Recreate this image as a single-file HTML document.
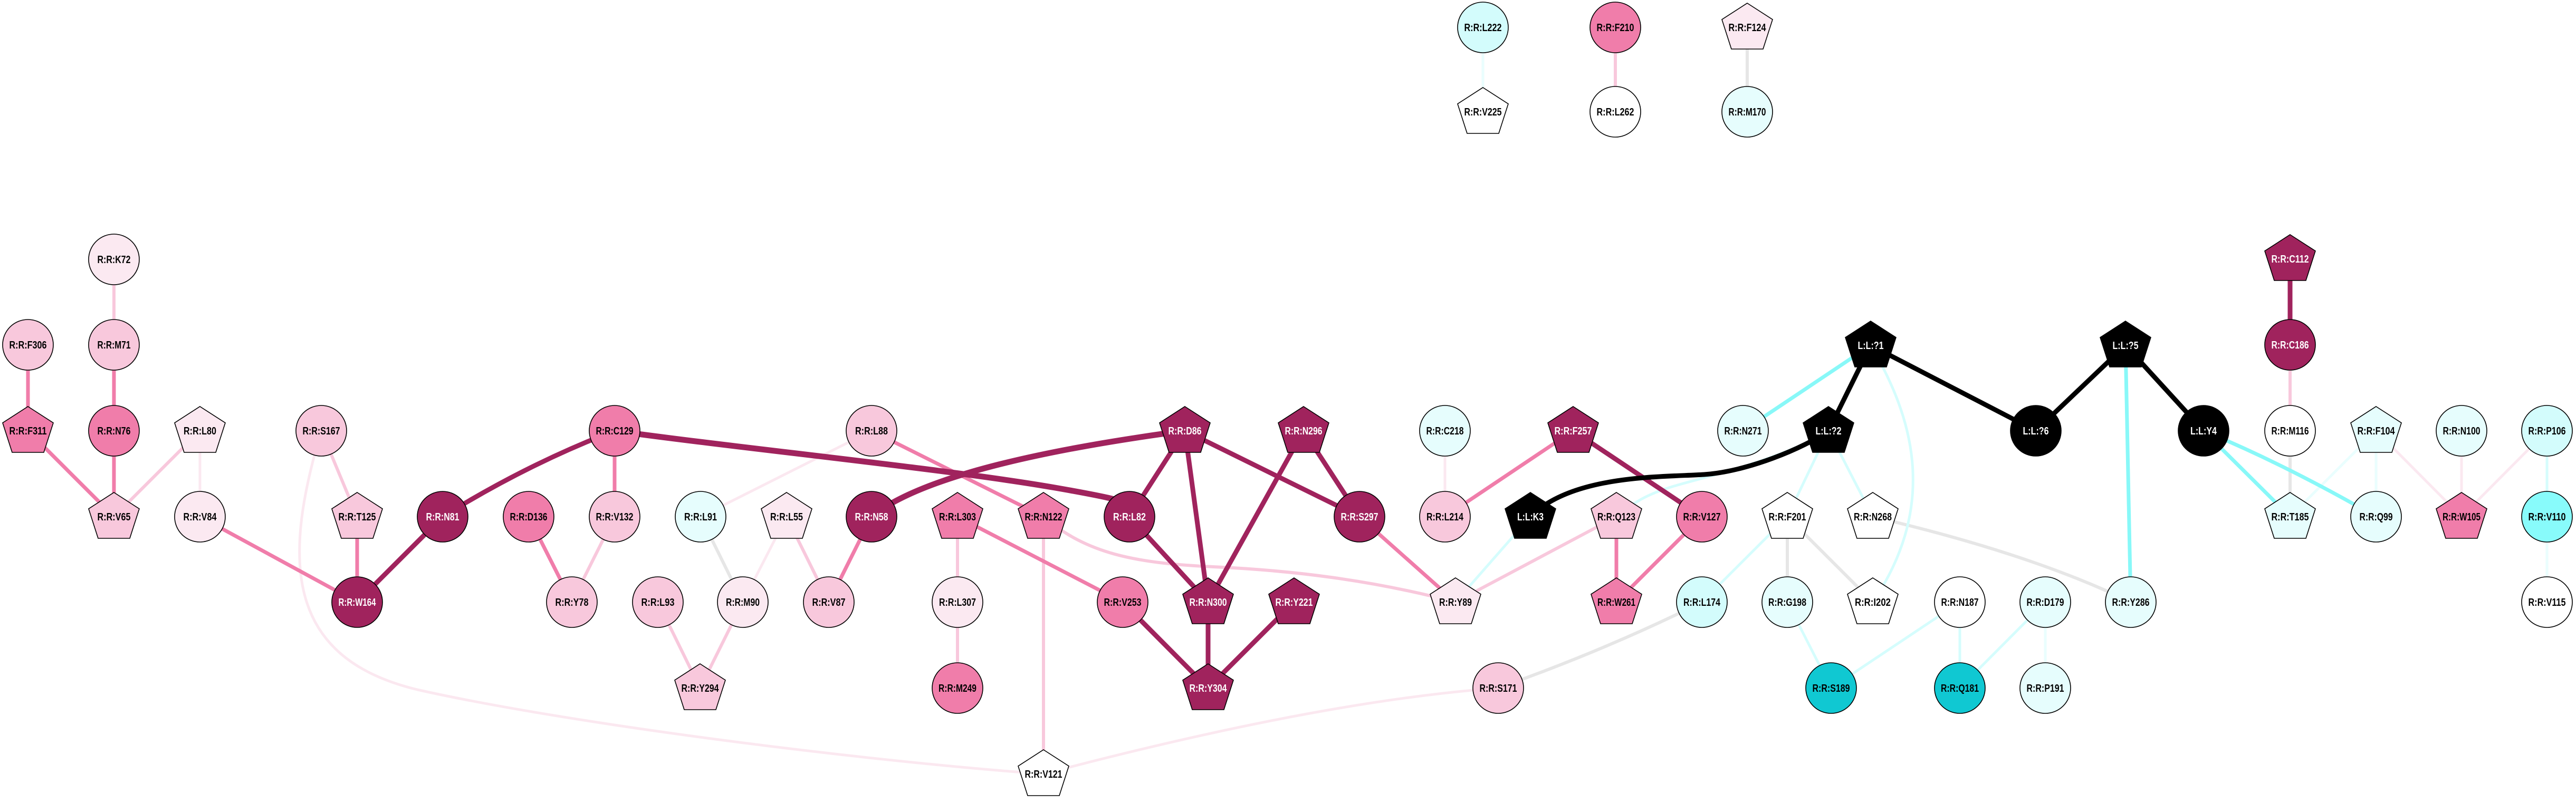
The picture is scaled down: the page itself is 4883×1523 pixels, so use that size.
<!DOCTYPE html>
<html><head><meta charset="utf-8"><style>
html,body{margin:0;padding:0;background:#fff;width:4883px;height:1523px;overflow:hidden}
svg{display:block}
.n polygon,.n circle{stroke:#000;stroke-width:1.6}
text{font-family:"Liberation Sans",sans-serif;font-weight:bold;font-size:20px;text-anchor:middle;fill:#000}
.w text{fill:#fff}
.D{fill:#A0235D}.M{fill:#F07DAA}.P{fill:#F8C8DC}.V{fill:#FBE9F1}.C{fill:#E6FDFD}.C2{fill:#D3FCFC}.C3{fill:#88FBFB}.T{fill:#10C8D2}.K{fill:#000}.W{fill:#fff}
path,line{fill:none;stroke-linecap:butt}
.ed{stroke:#A0235D;stroke-width:9}.em{stroke:#F07DAA;stroke-width:7}.ep{stroke:#F8C8DC;stroke-width:6}.ev{stroke:#FBE8F0;stroke-width:5}.eg{stroke:#E6E6E6;stroke-width:6}.ek{stroke:#000;stroke-width:9}.ec{stroke:#88F8F8;stroke-width:7}.el{stroke:#D5FDFD;stroke-width:5}.ex{stroke:#EAFEFE;stroke-width:5}
</style></head><body>
<svg width="4883" height="1523" viewBox="0 0 4883 1523" xmlns="http://www.w3.org/2000/svg">
<defs><polygon id="pg" points="0,-46 48,-15 30,41 -30,41 -48,-15"/></defs>
<g>
<!-- very light pink -->
<line class="ev" x1="379" y1="817" x2="379" y2="980"/>
<path class="ev" d="M609,817 C540,1050 530,1250 800,1310 S1600,1440 1978,1468"/>
<line class="ev" x1="1491" y1="980" x2="1408" y2="1142"/>
<line class="ev" x1="1652" y1="817" x2="1328" y2="980"/>
<line class="ev" x1="2739" y1="817" x2="2739" y2="980"/>
<path class="ev" d="M1978,1468 Q2500,1330 2840,1305"/>
<line class="ev" x1="4504" y1="817" x2="4666" y2="980"/>
<line class="ev" x1="4666" y1="817" x2="4666" y2="980"/>
<line class="ev" x1="4828" y1="817" x2="4666" y2="980"/>
<!-- grey -->
<line class="eg" x1="1328" y1="980" x2="1408" y2="1142"/>
<path class="eg" d="M2840,1305 Q3050,1230 3226,1142"/>
<line class="eg" x1="3388" y1="980" x2="3388" y2="1142"/>
<line class="eg" x1="3388" y1="980" x2="3550" y2="1142"/>
<path class="eg" d="M3550,980 Q3850,1050 4039,1142"/>
<line class="eg" x1="4341" y1="817" x2="4341" y2="980"/>
<line class="eg" x1="3312" y1="52" x2="3312" y2="212"/>
<!-- very light cyan -->
<line class="ex" x1="3877" y1="1142" x2="3877" y2="1305"/>
<line class="ex" x1="4504" y1="817" x2="4341" y2="980"/>
<line class="ex" x1="4504" y1="817" x2="4504" y2="980"/>
<line class="ex" x1="4828" y1="980" x2="4828" y2="1142"/>
<line class="ex" x1="2811" y1="52" x2="2811" y2="212"/>
<!-- light cyan -->
<line class="el" x1="2901" y1="980" x2="2759" y2="1142"/>
<path class="el" d="M3466,817 C3380,870 3250,900 3180,920 S3090,960 3064,980"/>
<path class="el" d="M3546,655 C3620,780 3680,950 3550,1142"/>
<line class="el" x1="3466" y1="817" x2="3388" y2="980"/>
<line class="el" x1="3466" y1="817" x2="3550" y2="980"/>
<line class="el" x1="3388" y1="980" x2="3226" y2="1142"/>
<line class="el" x1="3388" y1="1142" x2="3471" y2="1305"/>
<line class="el" x1="3715" y1="1142" x2="3471" y2="1305"/>
<line class="el" x1="3715" y1="1142" x2="3715" y2="1305"/>
<line class="el" x1="3877" y1="1142" x2="3715" y2="1305"/>
<line class="el" x1="4828" y1="817" x2="4828" y2="980"/>
<!-- light pink -->
<line class="ep" x1="216" y1="492" x2="216" y2="654"/>
<line class="ep" x1="379" y1="817" x2="216" y2="980"/>
<line class="ep" x1="609" y1="817" x2="677" y2="980"/>
<line class="ep" x1="1165" y1="980" x2="1084" y2="1142"/>
<line class="ep" x1="1247" y1="1142" x2="1327" y2="1305"/>
<line class="ep" x1="1408" y1="1142" x2="1327" y2="1305"/>
<line class="ep" x1="1491" y1="980" x2="1571" y2="1142"/>
<line class="ep" x1="1815" y1="980" x2="1815" y2="1142"/>
<line class="ep" x1="1815" y1="1142" x2="1815" y2="1305"/>
<line class="ep" x1="1978" y1="980" x2="1978" y2="1468"/>
<path class="ep" d="M1978,980 C2060,1050 2150,1068 2300,1075 S2600,1100 2759,1142"/>
<line class="ep" x1="3064" y1="980" x2="2759" y2="1142"/>
<line class="ep" x1="4341" y1="654" x2="4341" y2="817"/>
<line class="ep" x1="3062" y1="52" x2="3062" y2="212"/>
<!-- medium -->
<line class="em" x1="53" y1="654" x2="53" y2="817"/>
<line class="em" x1="216" y1="654" x2="216" y2="817"/>
<line class="em" x1="53" y1="817" x2="216" y2="980"/>
<line class="em" x1="216" y1="817" x2="216" y2="980"/>
<line class="em" x1="379" y1="980" x2="677" y2="1142"/>
<line class="em" x1="677" y1="980" x2="677" y2="1142"/>
<line class="em" x1="1165" y1="817" x2="1165" y2="980"/>
<line class="em" x1="1002" y1="980" x2="1084" y2="1142"/>
<line class="em" x1="1652" y1="980" x2="1571" y2="1142"/>
<line class="em" x1="1652" y1="817" x2="1978" y2="980"/>
<line class="em" x1="1815" y1="980" x2="2128" y2="1142"/>
<line class="em" x1="2577" y1="980" x2="2759" y2="1142"/>
<line class="em" x1="2982" y1="817" x2="2739" y2="980"/>
<line class="em" x1="3064" y1="980" x2="3064" y2="1142"/>
<line class="em" x1="3226" y1="980" x2="3064" y2="1142"/>
<!-- dark -->
<path class="ed" d="M1165,817 Q1000,880 839,980"/>
<line class="ed" x1="839" y1="980" x2="677" y2="1142"/>
<line class="ed" x1="2246" y1="817" x2="2141" y2="980"/>
<line class="ed" x1="2246" y1="817" x2="2290" y2="1142"/>
<line class="ed" x1="2246" y1="817" x2="2577" y2="980"/>
<line class="ed" x1="2471" y1="817" x2="2290" y2="1142"/>
<line class="ed" x1="2471" y1="817" x2="2577" y2="980"/>
<line class="ed" x1="2141" y1="980" x2="2290" y2="1142"/>
<line class="ed" x1="2128" y1="1142" x2="2290" y2="1305"/>
<line class="ed" x1="2290" y1="1142" x2="2290" y2="1305"/>
<line class="ed" x1="2453" y1="1142" x2="2290" y2="1305"/>
<line class="ed" x1="2982" y1="817" x2="3226" y2="980"/>
<line class="ed" x1="4341" y1="491" x2="4341" y2="654"/>
<path class="ed" style="stroke-width:11" d="M1165,817 C1400,850 1800,890 2000,925 S2100,950 2141,980"/>
<path class="ed" style="stroke-width:11" d="M2246,817 C2000,850 1750,900 1652,980"/>
<!-- cyan -->
<line class="ec" x1="3546" y1="655" x2="3304" y2="817"/>
<line class="ec" x1="4029" y1="655" x2="4039" y2="1142"/>
<line class="ec" x1="4177" y1="817" x2="4341" y2="980"/>
<path class="ec" d="M4177,817 Q4330,880 4504,980"/>
<!-- black -->
<path class="ek" d="M2901,980 C2980,900 3150,905 3230,900 S3420,850 3466,817"/>
<line class="ek" x1="3546" y1="655" x2="3466" y2="817"/>
<line class="ek" x1="3546" y1="655" x2="3859" y2="817"/>
<line class="ek" x1="4029" y1="655" x2="3859" y2="817"/>
<line class="ek" x1="4029" y1="655" x2="4177" y2="817"/>
</g>
<g class="n">
<!-- top -->
<g transform="translate(2811,52)"><circle r="48" class="C2"/><text y="7" textLength="71" lengthAdjust="spacingAndGlyphs">R:R:L222</text></g>
<g transform="translate(2811,212)"><use href="#pg" class="W" stroke="#000" stroke-width="1.6"/><text y="7" textLength="71" lengthAdjust="spacingAndGlyphs">R:R:V225</text></g>
<g transform="translate(3062,52)"><circle r="48" class="M"/><text y="7" textLength="71" lengthAdjust="spacingAndGlyphs">R:R:F210</text></g>
<g transform="translate(3062,212)"><circle r="48" class="W"/><text y="7" textLength="71" lengthAdjust="spacingAndGlyphs">R:R:L262</text></g>
<g transform="translate(3312,52)"><use href="#pg" class="V" stroke="#000" stroke-width="1.6"/><text y="7" textLength="71" lengthAdjust="spacingAndGlyphs">R:R:F124</text></g>
<g transform="translate(3312,212)"><circle r="48" class="C"/><text y="7" textLength="71" lengthAdjust="spacingAndGlyphs">R:R:M170</text></g>
<!-- left -->
<g transform="translate(216,492)"><circle r="48" class="V"/><text y="7" textLength="63" lengthAdjust="spacingAndGlyphs">R:R:K72</text></g>
<g transform="translate(53,654)"><circle r="48" class="P"/><text y="7" textLength="71" lengthAdjust="spacingAndGlyphs">R:R:F306</text></g>
<g transform="translate(216,654)"><circle r="48" class="P"/><text y="7" textLength="63" lengthAdjust="spacingAndGlyphs">R:R:M71</text></g>
<g transform="translate(53,817)"><use href="#pg" class="M" stroke="#000" stroke-width="1.6"/><text y="7" textLength="71" lengthAdjust="spacingAndGlyphs">R:R:F311</text></g>
<g transform="translate(216,817)"><circle r="48" class="M"/><text y="7" textLength="63" lengthAdjust="spacingAndGlyphs">R:R:N76</text></g>
<g transform="translate(379,817)"><use href="#pg" class="V" stroke="#000" stroke-width="1.6"/><text y="7" textLength="62" lengthAdjust="spacingAndGlyphs">R:R:L80</text></g>
<g transform="translate(609,817)"><circle r="48" class="P"/><text y="7" textLength="71" lengthAdjust="spacingAndGlyphs">R:R:S167</text></g>
<g transform="translate(1165,817)"><circle r="48" class="M"/><text y="7" textLength="71" lengthAdjust="spacingAndGlyphs">R:R:C129</text></g>
<g transform="translate(216,980)"><use href="#pg" class="P" stroke="#000" stroke-width="1.6"/><text y="7" textLength="63" lengthAdjust="spacingAndGlyphs">R:R:V65</text></g>
<g transform="translate(379,980)"><circle r="48" class="V"/><text y="7" textLength="63" lengthAdjust="spacingAndGlyphs">R:R:V84</text></g>
<g transform="translate(677,980)"><use href="#pg" class="P" stroke="#000" stroke-width="1.6"/><text y="7" textLength="71" lengthAdjust="spacingAndGlyphs">R:R:T125</text></g>
<g transform="translate(839,980)" class="w"><circle r="48" class="D"/><text y="7" textLength="63" lengthAdjust="spacingAndGlyphs">R:R:N81</text></g>
<g transform="translate(1002,980)"><circle r="48" class="M"/><text y="7" textLength="71" lengthAdjust="spacingAndGlyphs">R:R:D136</text></g>
<g transform="translate(1165,980)"><circle r="48" class="P"/><text y="7" textLength="71" lengthAdjust="spacingAndGlyphs">R:R:V132</text></g>
<g transform="translate(677,1142)" class="w"><circle r="48" class="D"/><text y="7" textLength="71" lengthAdjust="spacingAndGlyphs">R:R:W164</text></g>
<g transform="translate(1084,1142)"><circle r="48" class="P"/><text y="7" textLength="63" lengthAdjust="spacingAndGlyphs">R:R:Y78</text></g>
<g transform="translate(1247,1142)"><circle r="48" class="P"/><text y="7" textLength="63" lengthAdjust="spacingAndGlyphs">R:R:L93</text></g>
<!-- middle -->
<g transform="translate(1652,817)"><circle r="48" class="P"/><text y="7" textLength="62" lengthAdjust="spacingAndGlyphs">R:R:L88</text></g>
<g transform="translate(2246,817)" class="w"><use href="#pg" class="D" stroke="#000" stroke-width="1.6"/><text y="7" textLength="63" lengthAdjust="spacingAndGlyphs">R:R:D86</text></g>
<g transform="translate(2471,817)" class="w"><use href="#pg" class="D" stroke="#000" stroke-width="1.6"/><text y="7" textLength="71" lengthAdjust="spacingAndGlyphs">R:R:N296</text></g>
<g transform="translate(2739,817)"><circle r="48" class="C"/><text y="7" textLength="71" lengthAdjust="spacingAndGlyphs">R:R:C218</text></g>
<g transform="translate(2982,817)" class="w"><use href="#pg" class="D" stroke="#000" stroke-width="1.6"/><text y="7" textLength="71" lengthAdjust="spacingAndGlyphs">R:R:F257</text></g>
<g transform="translate(1328,980)"><circle r="48" class="C"/><text y="7" textLength="62" lengthAdjust="spacingAndGlyphs">R:R:L91</text></g>
<g transform="translate(1491,980)"><use href="#pg" class="V" stroke="#000" stroke-width="1.6"/><text y="7" textLength="62" lengthAdjust="spacingAndGlyphs">R:R:L55</text></g>
<g transform="translate(1652,980)" class="w"><circle r="48" class="D"/><text y="7" textLength="63" lengthAdjust="spacingAndGlyphs">R:R:N58</text></g>
<g transform="translate(1815,980)"><use href="#pg" class="M" stroke="#000" stroke-width="1.6"/><text y="7" textLength="70" lengthAdjust="spacingAndGlyphs">R:R:L303</text></g>
<g transform="translate(1978,980)"><use href="#pg" class="M" stroke="#000" stroke-width="1.6"/><text y="7" textLength="71" lengthAdjust="spacingAndGlyphs">R:R:N122</text></g>
<g transform="translate(2141,980)" class="w"><circle r="48" class="D"/><text y="7" textLength="62" lengthAdjust="spacingAndGlyphs">R:R:L82</text></g>
<g transform="translate(2577,980)" class="w"><circle r="48" class="D"/><text y="7" textLength="71" lengthAdjust="spacingAndGlyphs">R:R:S297</text></g>
<g transform="translate(2739,980)"><circle r="48" class="P"/><text y="7" textLength="70" lengthAdjust="spacingAndGlyphs">R:R:L214</text></g>
<g transform="translate(2901,980)" class="w"><use href="#pg" class="K" stroke="#000" stroke-width="1.6"/><text y="7" textLength="50" lengthAdjust="spacingAndGlyphs">L:L:K3</text></g>
<g transform="translate(3064,980)"><use href="#pg" class="P" stroke="#000" stroke-width="1.6"/><text y="7" textLength="72" lengthAdjust="spacingAndGlyphs">R:R:Q123</text></g>
<g transform="translate(3226,980)"><circle r="48" class="M"/><text y="7" textLength="71" lengthAdjust="spacingAndGlyphs">R:R:V127</text></g>
<g transform="translate(1408,1142)"><circle r="48" class="V"/><text y="7" textLength="64" lengthAdjust="spacingAndGlyphs">R:R:M90</text></g>
<g transform="translate(1571,1142)"><circle r="48" class="P"/><text y="7" textLength="63" lengthAdjust="spacingAndGlyphs">R:R:V87</text></g>
<g transform="translate(1815,1142)"><circle r="48" class="V"/><text y="7" textLength="70" lengthAdjust="spacingAndGlyphs">R:R:L307</text></g>
<g transform="translate(2128,1142)"><circle r="48" class="M"/><text y="7" textLength="71" lengthAdjust="spacingAndGlyphs">R:R:V253</text></g>
<g transform="translate(2290,1142)" class="w"><use href="#pg" class="D" stroke="#000" stroke-width="1.6"/><text y="7" textLength="71" lengthAdjust="spacingAndGlyphs">R:R:N300</text></g>
<g transform="translate(2453,1142)" class="w"><use href="#pg" class="D" stroke="#000" stroke-width="1.6"/><text y="7" textLength="71" lengthAdjust="spacingAndGlyphs">R:R:Y221</text></g>
<g transform="translate(2759,1142)"><use href="#pg" class="V" stroke="#000" stroke-width="1.6"/><text y="7" textLength="62" lengthAdjust="spacingAndGlyphs">R:R:Y89</text></g>
<g transform="translate(3064,1142)"><use href="#pg" class="M" stroke="#000" stroke-width="1.6"/><text y="7" textLength="72" lengthAdjust="spacingAndGlyphs">R:R:W261</text></g>
<g transform="translate(1327,1305)"><use href="#pg" class="P" stroke="#000" stroke-width="1.6"/><text y="7" textLength="71" lengthAdjust="spacingAndGlyphs">R:R:Y294</text></g>
<g transform="translate(1815,1305)"><circle r="48" class="M"/><text y="7" textLength="72" lengthAdjust="spacingAndGlyphs">R:R:M249</text></g>
<g transform="translate(2290,1305)" class="w"><use href="#pg" class="D" stroke="#000" stroke-width="1.6"/><text y="7" textLength="71" lengthAdjust="spacingAndGlyphs">R:R:Y304</text></g>
<g transform="translate(2840,1305)"><circle r="48" class="P"/><text y="7" textLength="71" lengthAdjust="spacingAndGlyphs">R:R:S171</text></g>
<g transform="translate(1978,1468)"><use href="#pg" class="W" stroke="#000" stroke-width="1.6"/><text y="7" textLength="71" lengthAdjust="spacingAndGlyphs">R:R:V121</text></g>
<!-- right -->
<g transform="translate(3546,655)" class="w"><use href="#pg" class="K" stroke="#000" stroke-width="1.6"/><text y="7" textLength="49" lengthAdjust="spacingAndGlyphs">L:L:?1</text></g>
<g transform="translate(4029,655)" class="w"><use href="#pg" class="K" stroke="#000" stroke-width="1.6"/><text y="7" textLength="49" lengthAdjust="spacingAndGlyphs">L:L:?5</text></g>
<g transform="translate(4341,491)" class="w"><use href="#pg" class="D" stroke="#000" stroke-width="1.6"/><text y="7" textLength="71" lengthAdjust="spacingAndGlyphs">R:R:C112</text></g>
<g transform="translate(4341,654)" class="w"><circle r="48" class="D"/><text y="7" textLength="71" lengthAdjust="spacingAndGlyphs">R:R:C186</text></g>
<g transform="translate(3304,817)"><circle r="48" class="C"/><text y="7" textLength="71" lengthAdjust="spacingAndGlyphs">R:R:N271</text></g>
<g transform="translate(3466,817)" class="w"><use href="#pg" class="K" stroke="#000" stroke-width="1.6"/><text y="7" textLength="49" lengthAdjust="spacingAndGlyphs">L:L:?2</text></g>
<g transform="translate(3859,817)" class="w"><circle r="48" class="K"/><text y="7" textLength="49" lengthAdjust="spacingAndGlyphs">L:L:?6</text></g>
<g transform="translate(4177,817)" class="w"><circle r="48" class="K"/><text y="7" textLength="50" lengthAdjust="spacingAndGlyphs">L:L:Y4</text></g>
<g transform="translate(4341,817)"><circle r="48" class="W"/><text y="7" textLength="71" lengthAdjust="spacingAndGlyphs">R:R:M116</text></g>
<g transform="translate(4504,817)"><use href="#pg" class="C" stroke="#000" stroke-width="1.6"/><text y="7" textLength="71" lengthAdjust="spacingAndGlyphs">R:R:F104</text></g>
<g transform="translate(4666,817)"><circle r="48" class="C"/><text y="7" textLength="71" lengthAdjust="spacingAndGlyphs">R:R:N100</text></g>
<g transform="translate(4828,817)"><circle r="48" class="C2"/><text y="7" textLength="71" lengthAdjust="spacingAndGlyphs">R:R:P106</text></g>
<g transform="translate(3388,980)"><use href="#pg" class="W" stroke="#000" stroke-width="1.6"/><text y="7" textLength="71" lengthAdjust="spacingAndGlyphs">R:R:F201</text></g>
<g transform="translate(3550,980)"><use href="#pg" class="W" stroke="#000" stroke-width="1.6"/><text y="7" textLength="72" lengthAdjust="spacingAndGlyphs">R:R:N268</text></g>
<g transform="translate(4341,980)"><use href="#pg" class="C" stroke="#000" stroke-width="1.6"/><text y="7" textLength="71" lengthAdjust="spacingAndGlyphs">R:R:T185</text></g>
<g transform="translate(4504,980)"><circle r="48" class="C"/><text y="7" textLength="63" lengthAdjust="spacingAndGlyphs">R:R:Q99</text></g>
<g transform="translate(4666,980)"><use href="#pg" class="M" stroke="#000" stroke-width="1.6"/><text y="7" textLength="72" lengthAdjust="spacingAndGlyphs">R:R:W105</text></g>
<g transform="translate(4828,980)"><circle r="48" class="C3"/><text y="7" textLength="71" lengthAdjust="spacingAndGlyphs">R:R:V110</text></g>
<g transform="translate(3226,1142)"><circle r="48" class="C2"/><text y="7" textLength="70" lengthAdjust="spacingAndGlyphs">R:R:L174</text></g>
<g transform="translate(3388,1142)"><circle r="48" class="C"/><text y="7" textLength="72" lengthAdjust="spacingAndGlyphs">R:R:G198</text></g>
<g transform="translate(3550,1142)"><use href="#pg" class="W" stroke="#000" stroke-width="1.6"/><text y="7" textLength="68" lengthAdjust="spacingAndGlyphs">R:R:I202</text></g>
<g transform="translate(3715,1142)"><circle r="48" class="W"/><text y="7" textLength="71" lengthAdjust="spacingAndGlyphs">R:R:N187</text></g>
<g transform="translate(3877,1142)"><circle r="48" class="C"/><text y="7" textLength="71" lengthAdjust="spacingAndGlyphs">R:R:D179</text></g>
<g transform="translate(4039,1142)"><circle r="48" class="C"/><text y="7" textLength="71" lengthAdjust="spacingAndGlyphs">R:R:Y286</text></g>
<g transform="translate(4828,1142)"><circle r="48" class="W"/><text y="7" textLength="71" lengthAdjust="spacingAndGlyphs">R:R:V115</text></g>
<g transform="translate(3471,1305)"><circle r="48" class="T"/><text y="7" textLength="71" lengthAdjust="spacingAndGlyphs">R:R:S189</text></g>
<g transform="translate(3715,1305)"><circle r="48" class="T"/><text y="7" textLength="72" lengthAdjust="spacingAndGlyphs">R:R:Q181</text></g>
<g transform="translate(3877,1305)"><circle r="48" class="C"/><text y="7" textLength="71" lengthAdjust="spacingAndGlyphs">R:R:P191</text></g>
</g>
</svg>
</body></html>
